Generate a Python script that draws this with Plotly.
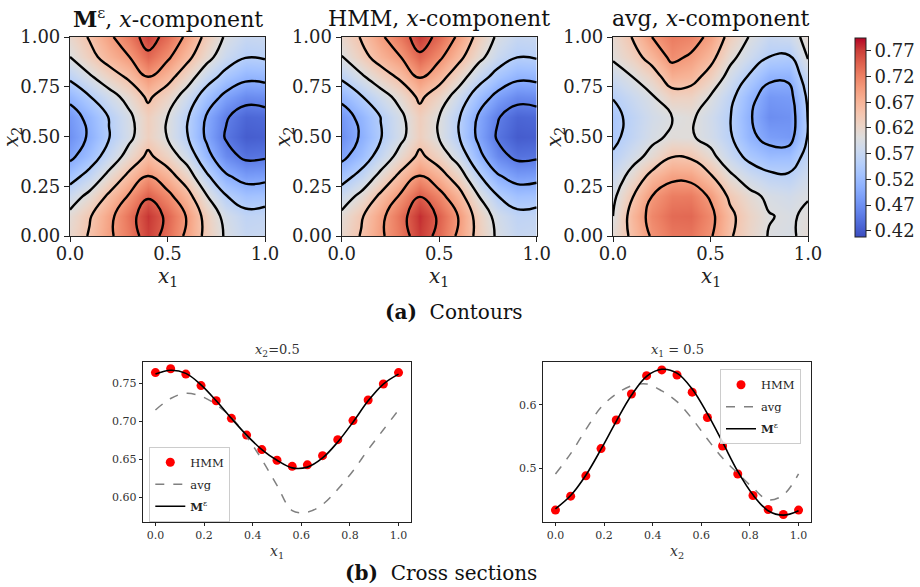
import plotly.graph_objects as go

# ---------------- data ----------------
grid = [0.0, 0.1, 0.2, 0.3, 0.4, 0.5, 0.6, 0.7, 0.8, 0.9, 1.0]

# rows: x2 = 0.0 ... 1.0, columns: x1 = 0.0 ... 1.0
m_eps_x = [
    [0.619, 0.654, 0.692, 0.726, 0.769, 0.736, 0.691, 0.637, 0.594, 0.571, 0.574],
    [0.611, 0.646, 0.688, 0.732, 0.775, 0.742, 0.697, 0.633, 0.586, 0.563, 0.566],
    [0.577, 0.612, 0.658, 0.703, 0.746, 0.713, 0.668, 0.603, 0.552, 0.529, 0.532],
    [0.531, 0.566, 0.613, 0.660, 0.703, 0.670, 0.625, 0.558, 0.506, 0.483, 0.486],
    [0.490, 0.525, 0.570, 0.616, 0.659, 0.626, 0.581, 0.515, 0.465, 0.442, 0.445],
    [0.471, 0.506, 0.548, 0.588, 0.631, 0.598, 0.553, 0.493, 0.446, 0.423, 0.426],
    [0.479, 0.514, 0.552, 0.590, 0.633, 0.600, 0.555, 0.497, 0.454, 0.431, 0.434],
    [0.513, 0.548, 0.582, 0.615, 0.658, 0.625, 0.580, 0.527, 0.488, 0.465, 0.468],
    [0.559, 0.594, 0.627, 0.657, 0.700, 0.667, 0.622, 0.572, 0.534, 0.511, 0.514],
    [0.600, 0.635, 0.670, 0.698, 0.741, 0.708, 0.663, 0.615, 0.575, 0.552, 0.555],
    [0.619, 0.654, 0.692, 0.726, 0.769, 0.736, 0.691, 0.637, 0.594, 0.571, 0.574],
]

hmm_x = [
    [0.618, 0.653, 0.693, 0.728, 0.772, 0.738, 0.692, 0.636, 0.593, 0.570, 0.573],
    [0.610, 0.645, 0.689, 0.734, 0.778, 0.744, 0.698, 0.632, 0.585, 0.562, 0.565],
    [0.576, 0.611, 0.659, 0.705, 0.749, 0.715, 0.669, 0.602, 0.551, 0.528, 0.531],
    [0.530, 0.565, 0.613, 0.661, 0.705, 0.671, 0.625, 0.557, 0.505, 0.482, 0.485],
    [0.489, 0.523, 0.569, 0.616, 0.660, 0.626, 0.580, 0.514, 0.464, 0.441, 0.444],
    [0.470, 0.505, 0.547, 0.588, 0.632, 0.598, 0.552, 0.492, 0.445, 0.422, 0.425],
    [0.478, 0.513, 0.551, 0.590, 0.634, 0.600, 0.554, 0.496, 0.453, 0.430, 0.433],
    [0.512, 0.547, 0.581, 0.615, 0.659, 0.625, 0.579, 0.526, 0.487, 0.464, 0.467],
    [0.558, 0.593, 0.627, 0.658, 0.702, 0.668, 0.622, 0.571, 0.533, 0.510, 0.513],
    [0.599, 0.634, 0.670, 0.699, 0.743, 0.709, 0.663, 0.614, 0.574, 0.551, 0.554],
    [0.618, 0.653, 0.693, 0.728, 0.772, 0.738, 0.692, 0.636, 0.593, 0.570, 0.573],
]

avg_x = [
    [0.612, 0.660, 0.705, 0.728, 0.730, 0.705, 0.655, 0.622, 0.598, 0.592, 0.612],
    [0.600, 0.668, 0.715, 0.738, 0.740, 0.712, 0.660, 0.625, 0.602, 0.595, 0.606],
    [0.590, 0.648, 0.700, 0.724, 0.725, 0.695, 0.642, 0.612, 0.592, 0.584, 0.598],
    [0.575, 0.615, 0.665, 0.690, 0.688, 0.655, 0.608, 0.578, 0.560, 0.556, 0.583],
    [0.555, 0.585, 0.612, 0.648, 0.644, 0.612, 0.572, 0.538, 0.520, 0.522, 0.565],
    [0.540, 0.565, 0.590, 0.606, 0.604, 0.585, 0.555, 0.510, 0.485, 0.480, 0.553],
    [0.538, 0.562, 0.585, 0.599, 0.606, 0.582, 0.552, 0.505, 0.468, 0.472, 0.552],
    [0.552, 0.575, 0.596, 0.630, 0.628, 0.598, 0.562, 0.515, 0.478, 0.482, 0.558],
    [0.578, 0.600, 0.628, 0.675, 0.668, 0.632, 0.585, 0.545, 0.510, 0.508, 0.575],
    [0.606, 0.632, 0.668, 0.710, 0.695, 0.665, 0.612, 0.578, 0.550, 0.545, 0.603],
    [0.615, 0.652, 0.700, 0.725, 0.718, 0.690, 0.635, 0.598, 0.572, 0.578, 0.615],
]

cbar_ticks = [0.42, 0.47, 0.52, 0.57, 0.62, 0.67, 0.72, 0.77]
cbar_labels = ["0.42", "0.47", "0.52", "0.57", "0.62", "0.67", "0.72", "0.77"]

# cross sections
s = [0.0, 0.0625, 0.125, 0.1875, 0.25, 0.3125, 0.375, 0.4375, 0.5,
     0.5625, 0.625, 0.6875, 0.75, 0.8125, 0.875, 0.9375, 1.0]

hmm_x2_05 = [0.764, 0.769, 0.762, 0.747, 0.727, 0.704, 0.682, 0.663, 0.649,
             0.641, 0.643, 0.655, 0.676, 0.701, 0.728, 0.749, 0.764]
avg_x2_05 = [0.715, 0.730, 0.737, 0.733, 0.722, 0.705, 0.680, 0.650, 0.616,
             0.583, 0.581, 0.591, 0.611, 0.635, 0.663, 0.689, 0.715]
meps_x2_05 = [0.762, 0.767, 0.763, 0.748, 0.727, 0.704, 0.682, 0.663, 0.649,
              0.639, 0.640, 0.652, 0.673, 0.699, 0.727, 0.749, 0.762]

hmm_x1_05 = [0.434, 0.456, 0.488, 0.531, 0.576, 0.617, 0.646, 0.655, 0.647,
             0.620, 0.580, 0.535, 0.491, 0.457, 0.435, 0.427, 0.434]
avg_x1_05 = [0.491, 0.523, 0.561, 0.596, 0.617, 0.630, 0.633, 0.622, 0.605,
             0.578, 0.546, 0.516, 0.492, 0.469, 0.450, 0.458, 0.491]
meps_x1_05 = [0.436, 0.457, 0.489, 0.530, 0.574, 0.615, 0.645, 0.656, 0.650,
              0.625, 0.586, 0.541, 0.495, 0.458, 0.433, 0.426, 0.433]

# ---------------- style ----------------
FONT = "DejaVu Serif"
W, H = 920, 587

coolwarm = [
    [0.0, "rgb(59,76,192)"], [0.0625, "rgb(77,104,215)"], [0.125, "rgb(98,130,234)"],
    [0.1875, "rgb(119,154,247)"], [0.25, "rgb(141,176,254)"], [0.3125, "rgb(163,194,255)"],
    [0.375, "rgb(184,208,249)"], [0.4375, "rgb(204,217,238)"], [0.5, "rgb(221,221,221)"],
    [0.5625, "rgb(236,211,197)"], [0.625, "rgb(245,196,173)"], [0.6875, "rgb(247,177,148)"],
    [0.75, "rgb(244,154,123)"], [0.8125, "rgb(236,127,99)"], [0.875, "rgb(222,96,77)"],
    [0.9375, "rgb(203,62,56)"], [1.0, "rgb(180,4,38)"],
]


def px_x(p):
    return p / W


def px_y(p):
    return 1 - p / H


fig = go.Figure()

fields = [m_eps_x, hmm_x, avg_x]
for i, z in enumerate(fields):
    sfx = "" if i == 0 else str(i + 1)
    fig.add_trace(go.Contour(
        x=grid, y=grid, z=z,
        xaxis="x" + sfx, yaxis="y" + sfx,
        coloraxis="coloraxis",
        contours=dict(start=0.45, end=0.75, size=0.05, coloring="heatmap", showlines=True),
        line=dict(color="black", width=2.4, smoothing=1.3),
        hoverinfo="skip",
    ))

# cross sections
panels = [
    ("x4", "y4", hmm_x2_05, avg_x2_05, meps_x2_05, "legend", "L"),
    ("x5", "y5", hmm_x1_05, avg_x1_05, meps_x1_05, "legend2", "R"),
]
for xa, ya, hv, av, mv, lg, tag in panels:
    fig.add_trace(go.Scatter(
        x=s, y=hv, mode="markers", name="HMM", xaxis=xa, yaxis=ya, legend=lg,
        legendgroup=tag + "h",
        marker=dict(color="red", size=9, line=dict(width=0)),
    ))
    fig.add_trace(go.Scatter(
        x=s, y=av, mode="lines", name="avg", xaxis=xa, yaxis=ya, legend=lg,
        legendgroup=tag + "a",
        line=dict(color="#808080", width=1.5, dash="dash", shape="spline"),
    ))
    fig.add_trace(go.Scatter(
        x=s, y=mv, mode="lines", name="<b>M</b><sup>ε</sup>", xaxis=xa, yaxis=ya, legend=lg,
        legendgroup=tag + "m",
        line=dict(color="black", width=1.6, shape="spline"),
    ))

axis_common = dict(showline=True, mirror=True, linecolor="#222222", linewidth=1.2,
                   ticks="outside", ticklen=5, tickwidth=1.2, tickcolor="#222222",
                   showgrid=False, zeroline=False, fixedrange=True, automargin=False)

contour_x = [(70, 265), (341.7, 536.7), (613, 808)]
top_px, bot_px = 37, 236
layout = {}
for i, (xl, xr) in enumerate(contour_x):
    sfx = "" if i == 0 else str(i + 1)
    layout["xaxis" + sfx] = dict(
        axis_common, domain=[px_x(xl), px_x(xr)], range=[0, 1], anchor="y" + sfx,
        tickvals=[0, 0.5, 1], ticktext=["0.0", "0.5", "1.0"], ticklabelstandoff=-4,
        tickfont=dict(family=FONT, size=18, color="#222"))
    layout["yaxis" + sfx] = dict(
        axis_common, domain=[px_y(bot_px), px_y(top_px)], range=[0, 1], anchor="x" + sfx,
        tickvals=[0, 0.25, 0.5, 0.75, 1.0], ticktext=["0.00", "0.25", "0.50", "0.75", "1.00"],
        tickfont=dict(family=FONT, size=18, color="#222"))

small_common = dict(axis_common, linewidth=1, ticklen=3.5, tickwidth=1,
                    tickfont=dict(family=FONT, size=11, color="#333"))
ptop, pbot = 361.7, 521.7
layout["xaxis4"] = dict(small_common, domain=[px_x(143.3), px_x(410.7)], range=[-0.05, 1.05],
                        anchor="y4", tickvals=[0, 0.2, 0.4, 0.6, 0.8, 1.0],
                        ticktext=["0.0", "0.2", "0.4", "0.6", "0.8", "1.0"])
layout["yaxis4"] = dict(small_common, domain=[px_y(pbot), px_y(ptop)], range=[0.5684, 0.7783],
                        anchor="x4", tickvals=[0.60, 0.65, 0.70, 0.75],
                        ticktext=["0.60", "0.65", "0.70", "0.75"])
layout["xaxis5"] = dict(small_common, domain=[px_x(543.3), px_x(810.7)], range=[-0.05, 1.05],
                        anchor="y5", tickvals=[0, 0.2, 0.4, 0.6, 0.8, 1.0],
                        ticktext=["0.0", "0.2", "0.4", "0.6", "0.8", "1.0"])
layout["yaxis5"] = dict(small_common, domain=[px_y(pbot), px_y(ptop)], range=[0.4157, 0.668],
                        anchor="x5", tickvals=[0.5, 0.6], ticktext=["0.5", "0.6"])

fig.update_layout(**layout)

legend_common = dict(xanchor="left", yanchor="top",
                     bgcolor="rgba(255,255,255,0.85)", bordercolor="#cccccc", borderwidth=1,
                     font=dict(family=FONT, size=11.5, color="#222"), itemwidth=30,
                     tracegroupgap=3)

fig.update_layout(
    width=W, height=H, margin=dict(l=0, r=0, t=0, b=0, autoexpand=False),
    paper_bgcolor="white", plot_bgcolor="white",
    font=dict(family=FONT, color="#222"),
    coloraxis=dict(
        colorscale=coolwarm, cmin=0.408, cmax=0.795,
        colorbar=dict(
            x=px_x(855), xanchor="left", xpad=0, ypad=0,
            y=px_y(237), yanchor="bottom", len=(237 - 38) / H, lenmode="fraction",
            thickness=11, thicknessmode="pixels",
            outlinewidth=1, outlinecolor="#222",
            tickvals=cbar_ticks, ticktext=cbar_labels,
            ticks="outside", ticklen=5, tickcolor="#222",
            tickfont=dict(family=FONT, size=18, color="#222"),
        ),
    ),
    legend=dict(legend_common, x=px_x(149.3), y=px_y(446.7)),
    legend2=dict(legend_common, x=px_x(720), y=px_y(369.3)),
    showlegend=True,
)

ann = []
titles = ["<b>M</b><sup>ε</sup>, <i>x</i>-component", "HMM, <i>x</i>-component",
          "avg, <i>x</i>-component"]
for (xl, xr), t in zip(contour_x, titles):
    cx = (xl + xr) / 2
    ann.append(dict(x=px_x(cx), y=px_y(18), text=t, showarrow=False, xref="paper", yref="paper",
                    xanchor="center", yanchor="middle", font=dict(family=FONT, size=22, color="#111")))
    ann.append(dict(x=px_x(cx), y=px_y(277), text="<i>x</i><sub>1</sub>", showarrow=False,
                    xref="paper", yref="paper", xanchor="center", yanchor="middle",
                    font=dict(family=FONT, size=20, color="#222")))
    ann.append(dict(x=px_x(xl - 58), y=px_y(137), text="<i>x</i><sub>2</sub>", showarrow=False,
                    xref="paper", yref="paper", xanchor="center", yanchor="middle", textangle=-90,
                    font=dict(family=FONT, size=20, color="#222")))

ann.append(dict(x=px_x(277), y=px_y(350), text="<i>x</i><sub>2</sub>=0.5", showarrow=False,
                xref="paper", yref="paper", xanchor="center", yanchor="middle",
                font=dict(family=FONT, size=13, color="#333")))
ann.append(dict(x=px_x(677), y=px_y(350), text="<i>x</i><sub>1</sub> = 0.5", showarrow=False,
                xref="paper", yref="paper", xanchor="center", yanchor="middle",
                font=dict(family=FONT, size=13, color="#333")))
ann.append(dict(x=px_x(277), y=px_y(552), text="<i>x</i><sub>1</sub>", showarrow=False,
                xref="paper", yref="paper", xanchor="center", yanchor="middle",
                font=dict(family=FONT, size=14, color="#333")))
ann.append(dict(x=px_x(677), y=px_y(552), text="<i>x</i><sub>2</sub>", showarrow=False,
                xref="paper", yref="paper", xanchor="center", yanchor="middle",
                font=dict(family=FONT, size=14, color="#333")))
ann.append(dict(x=px_x(454), y=px_y(312), text="<b>(a)</b>  Contours", showarrow=False,
                xref="paper", yref="paper", xanchor="center", yanchor="middle",
                font=dict(family=FONT, size=20, color="#111")))
ann.append(dict(x=px_x(441), y=px_y(573), text="<b>(b)</b>  Cross sections", showarrow=False,
                xref="paper", yref="paper", xanchor="center", yanchor="middle",
                font=dict(family=FONT, size=20, color="#111")))

fig.update_layout(annotations=ann)

fig.write_html("out.html", config={"displayModeBar": False},
               post_script="document.body.style.margin='0px';")
